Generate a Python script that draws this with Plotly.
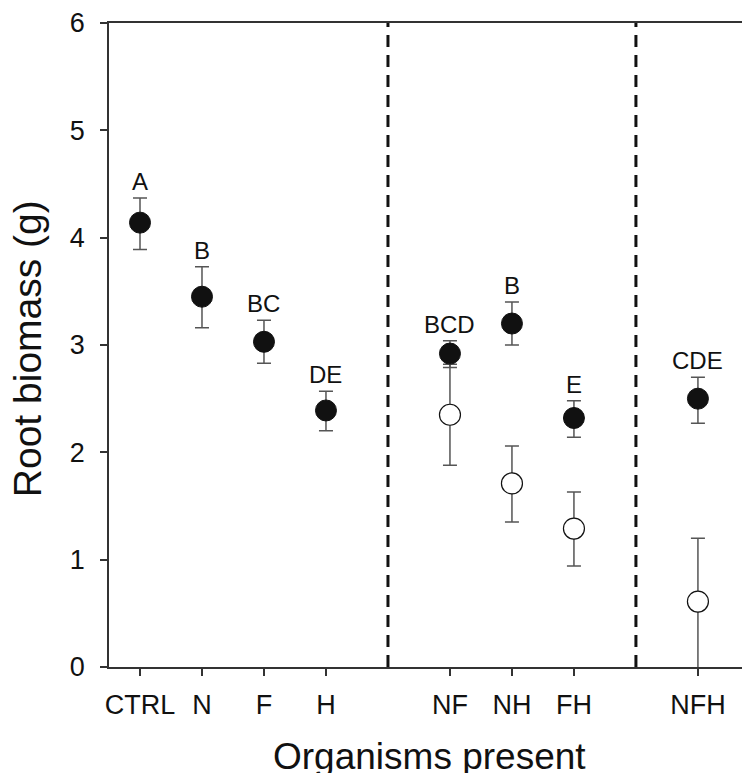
import plotly.graph_objects as go

categories = ["CTRL", "N", "F", "H", "NF", "NH", "FH", "NFH"]
positions = [1, 2, 3, 4, 6, 7, 8, 10]

filled_mean = [4.14, 3.45, 3.03, 2.39, 2.92, 3.20, 2.32, 2.50]
filled_upper = [4.37, 3.73, 3.23, 2.57, 3.04, 3.40, 2.48, 2.70]
filled_lower = [3.89, 3.16, 2.83, 2.20, 2.79, 3.00, 2.14, 2.27]

open_positions = [6, 7, 8, 10]
open_mean = [2.35, 1.71, 1.29, 0.61]
open_upper = [2.82, 2.06, 1.63, 1.20]
open_lower = [1.88, 1.35, 0.94, -0.05]

letters = ["A", "B", "BC", "DE", "BCD", "B", "E", "CDE"]
dividers = [5, 9]

FONT = "Liberation Sans, Arial, Helvetica, sans-serif"
AX = "#333333"
EB = "#555555"

fig = go.Figure()

fig.add_trace(go.Scatter(
    x=open_positions, y=open_mean, mode="markers",
    marker=dict(size=21, color="white", line=dict(color="#111111", width=1.2)),
    error_y=dict(type="data", symmetric=False,
                 array=[u - m for u, m in zip(open_upper, open_mean)],
                 arrayminus=[m - l for m, l in zip(open_mean, open_lower)],
                 color=EB, thickness=1.5, width=7),
    showlegend=False, cliponaxis=True,
))

fig.add_trace(go.Scatter(
    x=positions, y=filled_mean, mode="markers",
    marker=dict(size=21, color="#111111", line=dict(color="#111111", width=1)),
    error_y=dict(type="data", symmetric=False,
                 array=[u - m for u, m in zip(filled_upper, filled_mean)],
                 arrayminus=[m - l for m, l in zip(filled_mean, filled_lower)],
                 color=EB, thickness=1.5, width=7),
    showlegend=False,
))

for d in dividers:
    fig.add_shape(type="line", x0=d, x1=d, y0=0, y1=6, xref="x", yref="y",
                  line=dict(color="#111111", width=3, dash="12px,8px"))

annotations = []
for p, u, t in zip(positions, filled_upper, letters):
    annotations.append(dict(x=p, y=u, xref="x", yref="y", text=t, showarrow=False,
                            yanchor="bottom", yshift=1,
                            font=dict(family=FONT, size=24, color="#111111")))

annotations.append(dict(x=0.5, y=-0.139, xref="paper", yref="paper",
                        text="Organisms present", showarrow=False,
                        xanchor="center", yanchor="middle",
                        font=dict(family=FONT, size=37, color="#111111")))
annotations.append(dict(x=-0.128, y=0.495, xref="paper", yref="paper",
                        text="Root biomass (g)", showarrow=False, textangle=-90,
                        xanchor="center", yanchor="middle",
                        font=dict(family=FONT, size=39, color="#111111")))

# page body has an 8px margin; figure is sized/offset so the plot lands at the reference position
fig.update_layout(
    width=742, height=765,
    margin=dict(l=101, r=0, t=13, b=106),
    plot_bgcolor="white", paper_bgcolor="white",
    font=dict(family=FONT, color="#111111"),
    annotations=annotations,
    xaxis=dict(range=[0.5, 10.84], tickmode="array", tickvals=positions,
               ticktext=categories, showgrid=False, zeroline=False,
               showline=True, linecolor=AX, linewidth=1.5, mirror=True,
               ticks="outside", ticklen=7, tickwidth=1.5, tickcolor=AX,
               ticklabelstandoff=6,
               tickfont=dict(family=FONT, size=27, color="#111111")),
    yaxis=dict(range=[0, 6], tickmode="array", tickvals=[0, 1, 2, 3, 4, 5, 6],
               showgrid=False, zeroline=False,
               showline=True, linecolor=AX, linewidth=1.5,
               ticks="outside", ticklen=7, tickwidth=1.5, tickcolor=AX,
               ticklabelstandoff=10, ticklabeloverflow="allow",
               tickfont=dict(family=FONT, size=27, color="#111111")),
)

fig.write_html("out.html")
